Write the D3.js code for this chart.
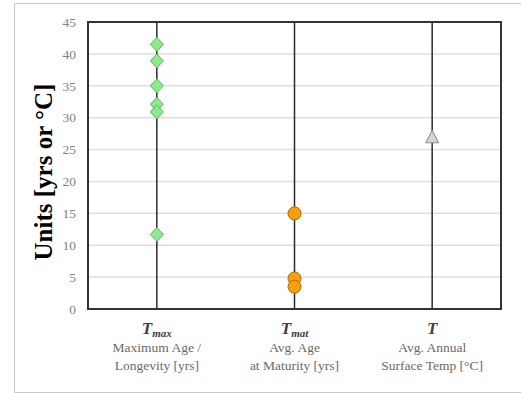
<!DOCTYPE html>
<html><head><meta charset="utf-8">
<script src="https://cdn.jsdelivr.net/npm/d3@7"></script>
<style>body{margin:0;background:#fff}svg{display:block}</style>
</head><body>
<script>
const categories = ["Tmax","Tmat","T"];
const catMain = ["T","T","T"];
const catSub = ["max","mat",""];
const catLine1 = ["Maximum Age /","Avg. Age","Avg. Annual"];
const catLine2 = ["Longevity [yrs]","at Maturity [yrs]","Surface Temp [°C]"];
const tmaxValues = [41.5, 38.9, 35.0, 32.1, 30.9, 11.7];
const tmatValues = [15.0, 4.8, 3.5];
const tValues = [27.0];
const yTicks = [0,5,10,15,20,25,30,35,40,45];
const yTitle = "Units [yrs or °C]";

const W=521,H=393;
const svg=d3.select("body").append("svg").attr("width",W).attr("height",H);
// outer frame
svg.append("path").attr("d",`M${W+5},3.5 H14.5 V392.5 H${W+5}`).attr("fill","none").attr("stroke","#c8c8c8").attr("stroke-width",1);

const m={l:88,r:501,t:22,b:309};
const x=d3.scaleBand().domain(categories).range([m.l,m.r]);
const y=d3.scaleLinear().domain([0,45]).range([m.b,m.t]);
const g=svg.append("g");

// gridlines
g.selectAll("line.grid").data(yTicks).join("line")
 .attr("x1",m.l).attr("x2",m.r).attr("y1",d=>y(d)).attr("y2",d=>y(d))
 .attr("stroke","#dedede").attr("stroke-width",1.5);

// y axis tick labels
const ax=d3.axisLeft(y).tickValues(yTicks).tickSize(0).tickPadding(12);
const axg=svg.append("g").attr("transform",`translate(${m.l},0)`).call(ax);
axg.select(".domain").remove();
axg.selectAll("text").attr("font-family","Liberation Serif").attr("font-size",13.5).attr("fill","#808080");

// category vertical lines
g.selectAll("line.cat").data(categories).join("line")
 .attr("x1",d=>x(d)+x.bandwidth()/2).attr("x2",d=>x(d)+x.bandwidth()/2)
 .attr("y1",m.t).attr("y2",m.b).attr("stroke","#2b2b2b").attr("stroke-width",1.5);

// plot border
g.append("rect").attr("x",m.l).attr("y",m.t).attr("width",m.r-m.l).attr("height",m.b-m.t)
 .attr("fill","none").attr("stroke","#333").attr("stroke-width",2);

// markers
const cx=c=>x(c)+x.bandwidth()/2;
g.selectAll("path.dia").data(tmaxValues).join("path")
 .attr("transform",d=>`translate(${cx("Tmax")},${y(d)})`)
 .attr("d","M0,-7 L6.5,0 L0,7 L-6.5,0Z")
 .attr("fill","#8ee88e").attr("stroke","#5cb85c").attr("stroke-width",1);
g.selectAll("circle.mat").data(tmatValues).join("circle")
 .attr("cx",cx("Tmat")).attr("cy",d=>y(d)).attr("r",6.5)
 .attr("fill","#f99f0a").attr("stroke","#a86a10").attr("stroke-width",1);
g.selectAll("path.tri").data(tValues).join("path")
 .attr("transform",d=>`translate(${cx("T")},${y(d)})`)
 .attr("d","M0,-6.5 L6.5,6 L-6.5,6Z")
 .attr("fill","#d4d4d4").attr("stroke","#8a8a8a").attr("stroke-width",1);

// category labels
categories.forEach((c,i)=>{
  const t=svg.append("text").attr("x",cx(c)).attr("y",334).attr("text-anchor","middle")
   .attr("font-family","Liberation Serif").attr("font-style","italic").attr("font-weight","bold").attr("fill","#404040");
  t.append("tspan").attr("font-size",17).text(catMain[i]);
  if(catSub[i]) t.append("tspan").attr("font-size",11).attr("dy",3).text(catSub[i]);
  svg.append("text").attr("x",cx(c)).attr("y",352).attr("text-anchor","middle")
   .attr("font-family","Liberation Serif").attr("font-size",13.5).attr("fill","#6a6a6a").text(catLine1[i]);
  svg.append("text").attr("x",cx(c)).attr("y",370).attr("text-anchor","middle")
   .attr("font-family","Liberation Serif").attr("font-size",13.5).attr("fill","#6a6a6a").text(catLine2[i]);
});

// y title
svg.append("text").attr("transform","translate(52,172) rotate(-90)").attr("text-anchor","middle")
 .attr("font-family","Liberation Serif").attr("font-weight","bold").attr("font-size",25).attr("fill","#000").text(yTitle);
</script>
</body></html>
